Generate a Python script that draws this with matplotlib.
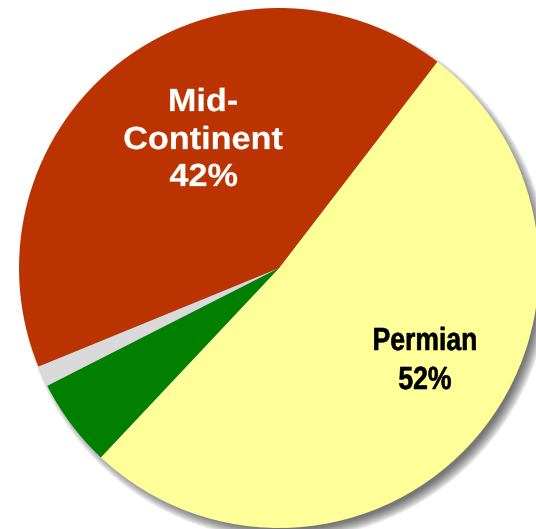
import matplotlib.pyplot as plt
from matplotlib.patches import Circle, PathPatch
from matplotlib.textpath import TextPath
from matplotlib.font_manager import FontProperties
from matplotlib.transforms import Affine2D

regions = ["Permian", "Other", "Minor", "Mid-Continent"]
shares = [51.6, 5.5, 1.3, 41.6]
colors = ["#FFFF99", "#007F00", "#D9D9D9", "#BB3300"]

fig = plt.figure(figsize=(5.36, 5.29), dpi=100)
ax = fig.add_axes([0, 0, 1, 1])

cx, cy, r = 279, 261, 260

# soft drop shadow toward the lower right
for k in range(12):
    ax.add_patch(Circle((cx + 6, cy - 7), r + 5 - k, color="#000000",
                        alpha=0.06, linewidth=0, zorder=0))

ax.pie(shares, colors=colors, startangle=52.5, counterclock=False,
       radius=r, center=(cx, cy), frame=True,
       wedgeprops=dict(linewidth=0))
ax.set_xlim(0, 536)
ax.set_ylim(0, 529)
ax.set_aspect("equal")
ax.axis("off")

fp = FontProperties(family="Liberation Sans", weight="bold")


def label(lines, x, size, xscale, color, lw):
    for line, base in lines:
        tp = TextPath((0, 0), line, size=size, prop=fp)
        ext = tp.get_extents()
        tr = (Affine2D().translate(-(ext.x0 + ext.x1) / 2, 0)
              .scale(xscale, 1.0).translate(x, 529 - base))
        ax.add_patch(PathPatch(tr.transform_path(tp), facecolor=color,
                               edgecolor=color, linewidth=lw, zorder=5))


# slightly spread white label, condensed black label
label([("Mid-", 111), ("Continent", 149), ("42%", 186)], 203.5, 32, 1.07, "white", 0.2)
label([("Permian", 350), ("52%", 389)], 425, 32, 0.83, "black", 0.4)

fig.savefig("out.png", dpi=100)
